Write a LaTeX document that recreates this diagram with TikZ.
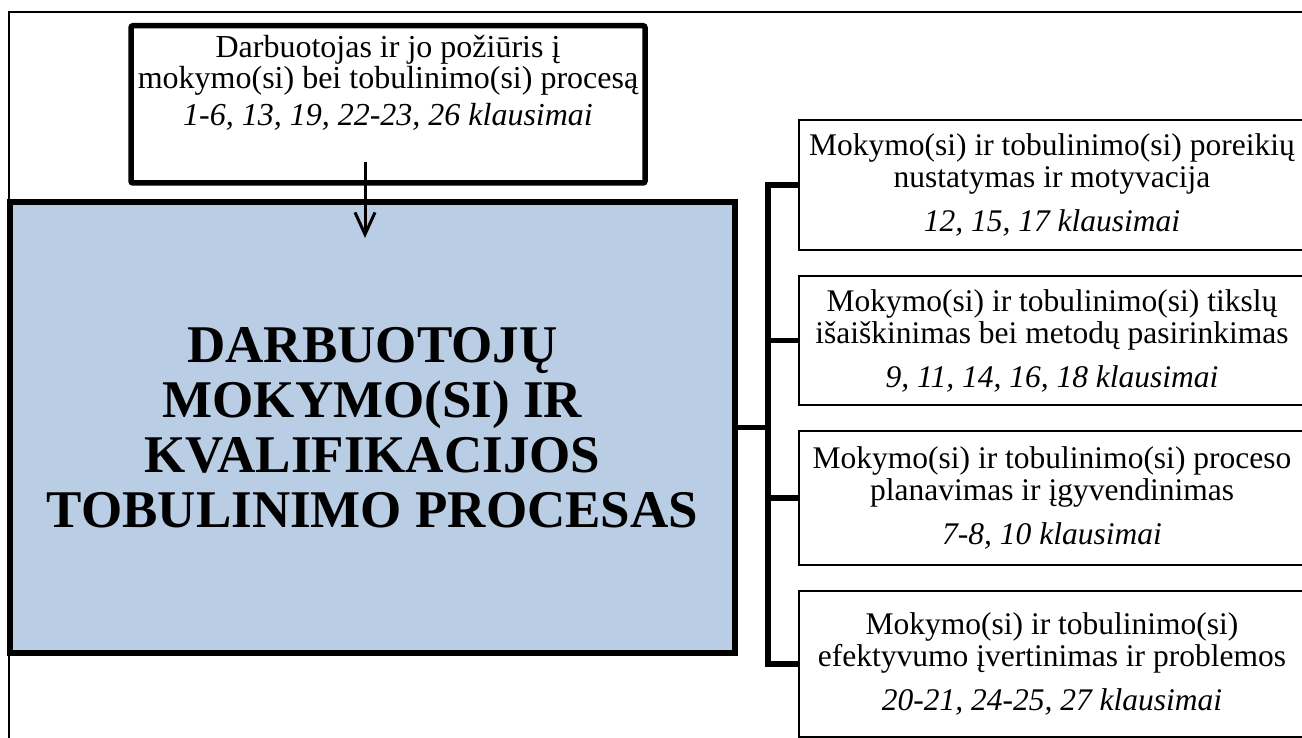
\documentclass[tikz,border=0pt]{standalone}
\usepackage{fontspec}
\setmainfont{Liberation Serif}
\usepackage{xcolor}
\usepackage{tikz}
\usetikzlibrary{arrows.meta, positioning, calc}
\definecolor{processblue}{RGB}{185, 205, 229}

\begin{document}
\begin{tikzpicture}[x=0.5pt, y=-0.5pt, node distance=13pt,
    topicbox/.style={rectangle, draw=black, fill=white, line width=1.2pt, align=center, inner sep=0pt, outer sep=0pt, minimum width=253pt, font=\fontsize{15.75}{16}\selectfont},
    link/.style={line width=2.75pt}]
    \useasboundingbox (0,0) rectangle (1302,738);
    \draw [line width=1pt] (9,745) -- (9,12.5) -- (1310,12.5);

    \node [rectangle, draw=black, fill=processblue, line width=3pt, outer sep=0pt, minimum width=362.5pt, minimum height=225.5pt, align=center, font=\fontsize{26.5}{27.5}\selectfont\bfseries] (process) at (372.5,427.5) {DARBUOTOJŲ\\ MOKYMO(SI) IR\\ KVALIFIKACIJOS\\ TOBULINIMO PROCESAS};
    \node [rectangle, draw=black, fill=white, line width=2.75pt, rounded corners=1pt, outer sep=0pt, minimum width=257pt, align=center, inner xsep=0pt, inner ysep=5pt, text depth=23.5pt, font=\fontsize{16}{15.5}\selectfont, above=9.5pt of process, xshift=7.75pt] (worker) {Darbuotojas ir jo požiūris į\\ mokymo(si) bei tobulinimo(si) procesą\\[3pt] \textit{1-6, 13, 19, 22-23, 26 klausimai}};

    \node [topicbox, minimum height=65pt, anchor=north west] (needs) at (799,120) {Mokymo(si) ir tobulinimo(si) poreikių\\ nustatymas ir motyvacija\\[6pt] \textit{12, 15, 17 klausimai}};
    \node [topicbox, minimum height=64.5pt, below=of needs] (goals) {Mokymo(si) ir tobulinimo(si) tikslų\\ išaiškinimas bei metodų pasirinkimas\\[6pt] \textit{9, 11, 14, 16, 18 klausimai}};
    \node [topicbox, minimum height=67pt, below=of goals] (plan) {Mokymo(si) ir tobulinimo(si) proceso\\ planavimas ir įgyvendinimas\\[6pt] \textit{7-8, 10 klausimai}};
    \node [topicbox, minimum height=73pt, below=of plan] (review) {Mokymo(si) ir tobulinimo(si)\\ efektyvumo įvertinimas ir problemos\\[6pt] \textit{20-21, 24-25, 27 klausimai}};

    \coordinate (spine) at ([xshift=16.5pt]process.east);
    \draw [-{Straight Barb[length=11pt, width=10pt]}, line width=1.5pt] ([xshift=-11.5pt, yshift=10.5pt]worker.south) -- ([xshift=-3.75pt, yshift=-18pt]process.north);
    \draw [link] (process.east) -- (spine);
    \draw [link] (needs.west) -| (spine) |- (review.west);
    \foreach \topic in {goals, plan}
        \draw [link] (\topic.west) -- (\topic.west -| spine);
\end{tikzpicture}
\end{document}
